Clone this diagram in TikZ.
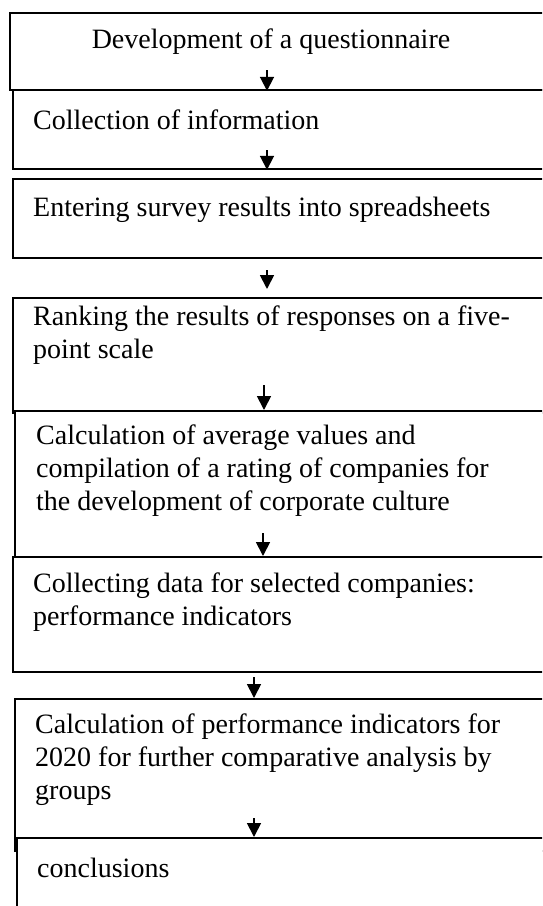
\documentclass[tikz,border=0pt]{standalone}
\usepackage{fontspec}
\setmainfont{Liberation Serif}
\usetikzlibrary{arrows.meta}

\begin{document}
\begin{tikzpicture}[x=1pt, y=-1pt,
    box/.style={draw, fill=white, line width=1.8pt, anchor=north west,
                inner sep=0pt, minimum width=600pt},
    txt/.style={anchor=base west, align=left, inner sep=0pt,
                font=\fontsize{28}{33}\selectfont},
    arr/.style={line width=1.8pt, -{Triangle[length=14pt,width=14pt]}}]
    \useasboundingbox (0,0) rectangle (542,906);
    \clip (0,0) rectangle (542,906);

    % boxes, right side runs off the page
    \node[box, minimum height=77pt]  (quest)   at (9,12)   {};
    \node[box, minimum height=79pt]  (collect) at (12,89)  {};
    \node[box, minimum height=79pt]  (enter)   at (12,178) {};
    \node[box, minimum height=115pt] (rank)    at (12,297) {};
    \node[box, minimum height=146pt] (rating)  at (14,410) {};
    \node[box, minimum height=115pt] (data)    at (12,556) {};
    \node[box, minimum height=152pt] (calc)    at (14,698) {};
    \node[box, minimum height=100pt] (concl)   at (16,837) {};

    % base = last line of the text
    \node[txt, anchor=base] (tquest) at (271,48) {Development of a questionnaire};
    \node[txt] (tcollect) at (33,129) {Collection of information};
    \node[txt] (tenter)   at (33,216) {Entering survey results into spreadsheets};
    \node[txt] (trank)    at (33,358) {Ranking the results of responses on a five-\\point scale};
    \node[txt] (trating)  at (36,510) {Calculation of average values and\\compilation of a rating of companies for\\the development of corporate culture};
    \node[txt] (tdata)    at (33,625) {Collecting data for selected companies:\\performance indicators};
    \node[txt] (tcalc)    at (35,799) {Calculation of performance indicators for\\2020 for further comparative analysis by\\groups};
    \node[txt] (tconcl)   at (37,877) {conclusions};

    \coordinate (s1) at (267,70);
    \coordinate (s2) at (267,150);
    \coordinate (s3) at (267,270);
    \coordinate (e3) at (267,289);
    \coordinate (s4) at (264,385);
    \coordinate (s5) at (263,533);
    \coordinate (s6) at (254,677);
    \coordinate (s7) at (254,818);
    \draw[arr] (s1) -- (s1 |- quest.south);
    \draw[arr] (s2) -- (s2 |- collect.south);
    \draw[arr] (s3) -- (e3);
    \draw[arr] (s4) -- (s4 |- rating.north);
    \draw[arr] (s5) -- (s5 |- data.north);
    \draw[arr] (s6) -- (s6 |- calc.north);
    \draw[arr] (s7) -- (s7 |- concl.north);
\end{tikzpicture}
\end{document}
